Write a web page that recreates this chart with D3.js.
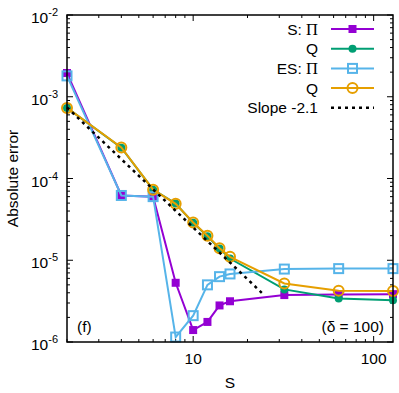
<!DOCTYPE html>
<html>
<head>
<meta charset="utf-8">
<script src="https://cdn.jsdelivr.net/npm/d3@7"></script>
<style>
  body { margin: 0; background: #fff; }
  text { font-family: "Liberation Sans", Arial, sans-serif; fill: #000; }
</style>
</head>
<body>
<svg id="chart" width="399" height="393"></svg>
<script>
// block sizes S
var sizes = [2, 4, 6, 8, 10, 12, 14, 16, 32, 64, 128];

// absolute errors
var sPi = [1.95e-3, 6.2e-5, 6.0e-5, 5.3e-6, 1.4e-6, 1.76e-6, 2.8e-6, 3.15e-6, 3.75e-6, 3.8e-6, 3.85e-6];
var sQ = [7.3e-4, 2.38e-4, 7.3e-5, 4.95e-5, 2.87e-5, 1.97e-5, 1.39e-5, 1.05e-5, 4.4e-6, 3.4e-6, 3.25e-6];
var esPi = [1.8e-3, 6.2e-5, 6.0e-5, 1.15e-6, 2.1e-6, 5.0e-6, 6.3e-6, 6.8e-6, 7.8e-6, 7.9e-6, 7.9e-6];
var esQ = [7.3e-4, 2.4e-4, 7.3e-5, 4.9e-5, 2.9e-5, 2.0e-5, 1.4e-5, 1.1e-5, 5.2e-6, 4.25e-6, 4.2e-6];

// fitted slope line endpoints
var slopeX = [2, 24];
var slopeY = [7.4e-4, 4.0e-6];

var yTickExp = [-2, -3, -4, -5, -6];
var xTickLabels = [10, 100];

var series = [
    { name: "S: ", pi: true, values: sPi, color: "#9400D3", marker: "square", filled: true },
    { name: "Q", pi: false, values: sQ, color: "#009E73", marker: "circle", filled: true },
    { name: "ES: ", pi: true, values: esPi, color: "#56B4E9", marker: "square", filled: false },
    { name: "Q", pi: false, values: esQ, color: "#E69F00", marker: "circle", filled: false }
];

var svg = d3.select("#chart"),
    margin = { top: 15, right: 6, bottom: 51, left: 67 },
    width = +svg.attr("width") - margin.left - margin.right,
    height = +svg.attr("height") - margin.top - margin.bottom,
    g = svg.append("g").attr("transform", "translate(" + margin.left + "," + margin.top + ")");

var x = d3.scaleLog().domain([2, 128]).range([0, width]);
var y = d3.scaleLog().domain([1e-6, 1e-2]).range([height, 0]);

// minor / major ticks, mirrored on all sides
var xMajor = [10, 100];
var xMinor = [];
[1, 10, 100].forEach(function (d) {
    for (var k = 2; k <= 9; k++) {
        var v = d * k;
        if (v >= 2 && v <= 128) xMinor.push(v);
    }
});
var yMinor = [];
[1e-6, 1e-5, 1e-4, 1e-3].forEach(function (d) {
    for (var k = 2; k <= 9; k++) yMinor.push(d * k);
});
var yMajor = yTickExp.map(function (e) { return Math.pow(10, e); });

var ticks = g.append("g").attr("stroke", "#000").attr("stroke-width", 1);
function xTick(v, len) {
    ticks.append("line").attr("x1", x(v)).attr("x2", x(v)).attr("y1", height).attr("y2", height - len);
    ticks.append("line").attr("x1", x(v)).attr("x2", x(v)).attr("y1", 0).attr("y2", len);
}
function yTick(v, len) {
    ticks.append("line").attr("x1", 0).attr("x2", len).attr("y1", y(v)).attr("y2", y(v));
    ticks.append("line").attr("x1", width).attr("x2", width - len).attr("y1", y(v)).attr("y2", y(v));
}
xMajor.forEach(function (v) { xTick(v, 6); });
xMinor.forEach(function (v) { xTick(v, 3); });
yMajor.forEach(function (v) { yTick(v, 6); });
yMinor.forEach(function (v) { yTick(v, 3); });

// tick labels
var yl = g.selectAll(".ylab").data(yTickExp).enter().append("text")
    .attr("class", "ylab")
    .attr("x", -9)
    .attr("y", function (d) { return y(Math.pow(10, d)) + 8; })
    .attr("text-anchor", "end")
    .style("font-size", "15.5px");
yl.append("tspan").text("10");
yl.append("tspan").attr("dy", -7).style("font-size", "11px").text(function (d) { return d; });

g.selectAll(".xlab").data(xTickLabels).enter().append("text")
    .attr("class", "xlab")
    .attr("x", function (d) { return x(d); })
    .attr("y", height + 22)
    .attr("text-anchor", "middle")
    .style("font-size", "15.5px")
    .text(function (d) { return d; });

// axis titles
svg.append("text")
    .attr("transform", "translate(18," + (margin.top + height / 2) + ") rotate(-90)")
    .attr("text-anchor", "middle")
    .style("font-size", "15.5px")
    .text("Absolute error");
svg.append("text")
    .attr("x", margin.left + width / 2)
    .attr("y", 388)
    .attr("text-anchor", "middle")
    .style("font-size", "15.5px")
    .text("S");

var line = d3.line()
    .x(function (d) { return x(d[0]); })
    .y(function (d) { return y(d[1]); });

function drawMarker(sel, s, cx, cy) {
    if (s.marker === "square") {
        var h = s.filled ? 4 : 4.5;
        sel.append("rect")
            .attr("x", cx - h).attr("y", cy - h)
            .attr("width", 2 * h).attr("height", 2 * h)
            .attr("fill", s.filled ? s.color : "none")
            .attr("stroke", s.color)
            .attr("stroke-width", s.filled ? 0 : 2);
    } else {
        sel.append("circle")
            .attr("cx", cx).attr("cy", cy)
            .attr("r", s.filled ? 4 : 5)
            .attr("fill", s.filled ? s.color : "none")
            .attr("stroke", s.color)
            .attr("stroke-width", s.filled ? 0 : 2);
    }
}

// series
series.forEach(function (s) {
    var pts = sizes.map(function (d, i) { return [d, s.values[i]]; });
    var sg = g.append("g");
    sg.append("path")
        .datum(pts)
        .attr("fill", "none")
        .attr("stroke", s.color)
        .attr("stroke-width", 2)
        .attr("d", line);
    pts.forEach(function (p) { drawMarker(sg, s, x(p[0]), y(p[1])); });
});

// slope line
g.append("path")
    .datum(slopeX.map(function (d, i) { return [d, slopeY[i]]; }))
    .attr("fill", "none")
    .attr("stroke", "#000")
    .attr("stroke-width", 2.5)
    .attr("stroke-dasharray", "3,4")
    .attr("d", line);

// frame
g.append("rect")
    .attr("width", width).attr("height", height)
    .attr("fill", "none").attr("stroke", "#000").attr("stroke-width", 1.5);

// legend
var legend = svg.append("g");
var legendRows = series.concat([{ name: "Slope -2.1", dashed: true }]);
legendRows.forEach(function (s, i) {
    var ly = 29 + i * 19.7;
    var t = legend.append("text")
        .attr("x", 318)
        .attr("y", ly + 5.5)
        .attr("text-anchor", "end")
        .style("font-size", "15.5px");
    t.append("tspan").text(s.name);
    if (s.pi) t.append("tspan").style("font-family", "'Liberation Serif', serif").style("font-size", "16.5px").text("\u03A0");
    if (s.dashed) {
        legend.append("line")
            .attr("x1", 331).attr("x2", 374).attr("y1", ly).attr("y2", ly)
            .attr("stroke", "#000").attr("stroke-width", 2.5).attr("stroke-dasharray", "3,4");
    } else {
        legend.append("line")
            .attr("x1", 331).attr("x2", 374).attr("y1", ly).attr("y2", ly)
            .attr("stroke", s.color).attr("stroke-width", 2);
        drawMarker(legend, s, 352.5, ly);
    }
});

// annotations
g.append("text").attr("x", 10).attr("y", height - 10).style("font-size", "15.5px").text("(f)");
g.append("text").attr("x", width - 9).attr("y", height - 10).attr("text-anchor", "end")
    .style("font-size", "15.5px").text("(\u03B4 = 100)");
</script>
</body>
</html>
